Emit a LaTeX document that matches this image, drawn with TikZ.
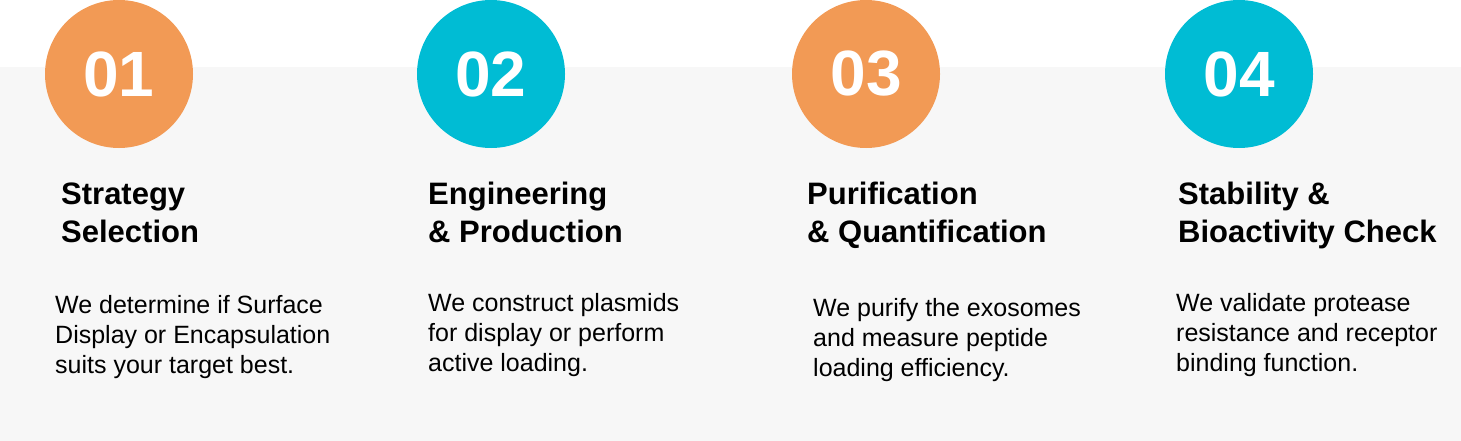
\documentclass[tikz,border=0pt]{standalone}
\usepackage{fontspec}
\setmainfont{Liberation Sans}
\definecolor{steporange}{HTML}{F29A55}
\definecolor{stepcyan}{HTML}{00BCD4}
\definecolor{panelgray}{HTML}{F7F7F7}
\begin{document}
\begin{tikzpicture}[x=1pt,y=-1pt]
    \tikzset{numdisc/.style={circle,minimum size=148pt,inner sep=0pt,text=white,font=\bfseries\fontsize{64}{64}\selectfont},
             steptitle/.style={anchor=base west,inner sep=0pt,align=left,font=\bfseries\fontsize{31}{38}\selectfont},
             stepbody/.style={anchor=base west,inner sep=0pt,align=left,font=\fontsize{25}{30}\selectfont}};
    \useasboundingbox (0,0) rectangle (1461,441);
    \fill[panelgray] (0,67) rectangle (1461,441);
    \node[numdisc,fill=steporange] (num1) at (119,74) {01};
    \node[numdisc,fill=stepcyan] (num2) at (491,74) {02};
    \node[numdisc,fill=steporange] (num3) at (866,74) {03};
    \node[numdisc,fill=stepcyan] (num4) at (1239,74) {04};
    % base anchor sits on the last line
    \node[steptitle] (title1) at (61,242) {Strategy\\Selection};
    \node[steptitle] (title2) at (428,242) {Engineering\\\& Production};
    \node[steptitle] (title3) at (807,242) {Purification\\\& Quantification};
    \node[steptitle] (title4) at (1178,242) {Stability \&\\Bioactivity Check};
    \node[stepbody] (body1) at (55,373) {We determine if Surface\\Display or Encapsulation\\suits your target best.};
    \node[stepbody] (body2) at (428,371) {We construct plasmids\\for display or perform\\active loading.};
    \node[stepbody] (body3) at (813,376) {We purify the exosomes\\and measure peptide\\loading efficiency.};
    \node[stepbody] (body4) at (1176,371) {We validate protease\\resistance and receptor\\binding function.};
\end{tikzpicture}
\end{document}
